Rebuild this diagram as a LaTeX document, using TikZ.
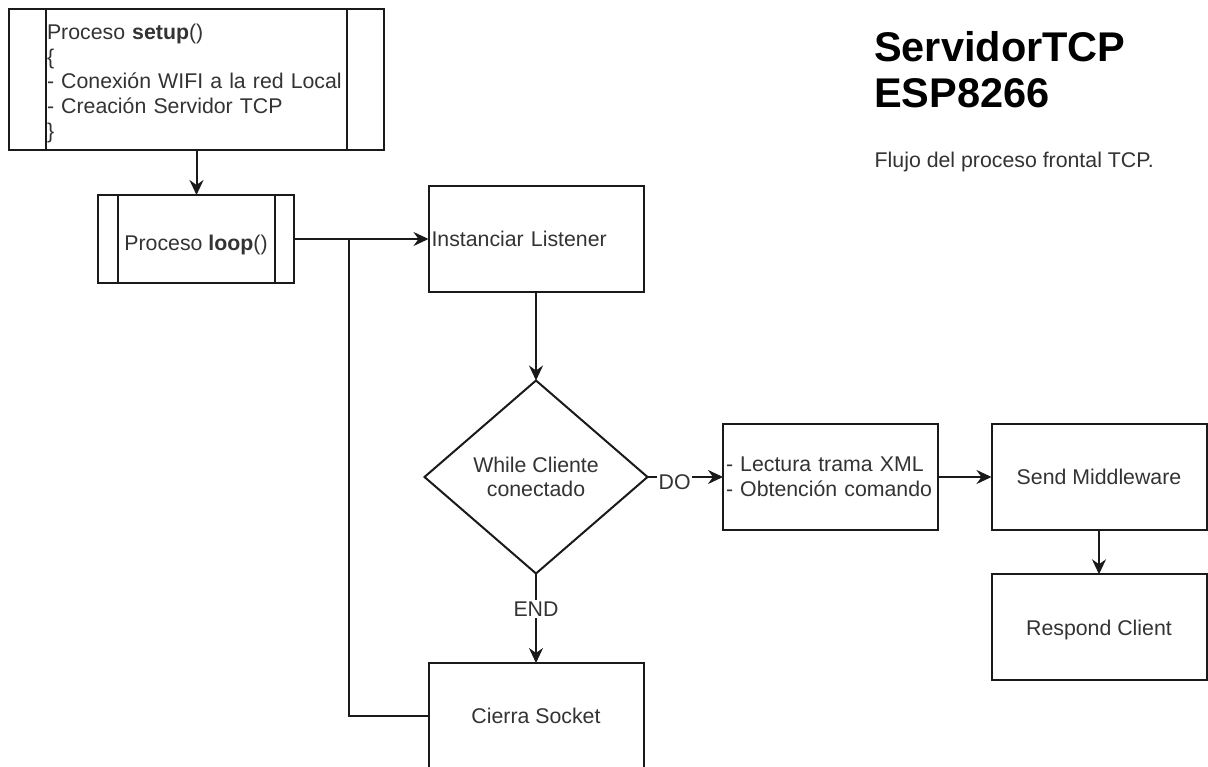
\documentclass[tikz,border=0pt]{standalone}
\usepackage{fontspec}
\setmainfont{Liberation Sans}
\usetikzlibrary{shapes.geometric,arrows.meta}
\definecolor{txtc}{HTML}{333333}
\definecolor{linec}{HTML}{1A1A1A}
\newcommand\dgfont{\fontsize{21.3}{24.6}\selectfont}
\begin{document}
\begin{tikzpicture}[x=1pt,y=-1pt,
 box/.style={draw=linec,line width=2pt,rectangle,inner sep=0pt,outer sep=0pt,font=\dgfont,text=txtc,minimum width=215pt,minimum height=106pt},
 arr/.style={draw=linec,line width=2pt,-{Stealth[length=15pt,width=14pt,inset=5pt]}},
 conn/.style={draw=linec,line width=2pt},
 lbl/.style={fill=white,inner sep=1.5pt,font=\dgfont,text=txtc}]
\useasboundingbox (0,0) rectangle (1208,767);
\clip (0,0) rectangle (1208,767);
\fill[white] (0,0) rectangle (1208,767);

\node[box,minimum width=375pt,minimum height=141pt,text width=299pt,inner xsep=38pt,align=left] (setup) at (196.5,79.5) {\rule{0pt}{23.4pt}Proceso \textbf{setup}()\\\{\\- Conexión WIFI a la red Local\\- Creación Servidor TCP\\\}};
\draw[conn] ([xshift=37pt]setup.north west) -- ([xshift=37pt]setup.south west);
\draw[conn] ([xshift=-37pt]setup.north east) -- ([xshift=-37pt]setup.south east);

\node[box,minimum width=196pt,minimum height=88pt,text height=23.4pt,text depth=0pt,xshift=-2pt] (loop) at (198,239) {Proceso \textbf{loop}()};
\draw[conn] ([xshift=20pt]loop.north west) -- ([xshift=20pt]loop.south west);
\draw[conn] ([xshift=-19pt]loop.north east) -- ([xshift=-19pt]loop.south east);

\node[box,text width=209pt,inner xsep=3pt,align=left] (inst) at (536,239) {Instanciar Listener};

\node[draw=linec,line width=2pt,diamond,inner sep=0pt,outer sep=0pt,minimum width=223pt,minimum height=193pt,font=\dgfont,text=txtc,align=center] (dia) at (536,477) {While Cliente\\conectado};

\node[box] (cierra) at (536,716) {Cierra Socket};
\node[box,text width=209pt,inner xsep=3pt,align=left] (lect) at (830.5,477) {- Lectura trama XML\\- Obtención comando};
\node[box] (send) at (1099,477) {Send Middleware};
\node[box,text depth=0pt] (resp) at (1099,627.3) {Respond Client};

\node[anchor=north west,inner sep=0pt,align=left,font=\fontsize{41.5}{45.6}\selectfont\bfseries,text=black] (title) at (874,31.4) {ServidorTCP\\ESP8266};
\node[anchor=base west,inner sep=0pt,font=\dgfont,text=txtc] (sub) at (874.5,167.3) {Flujo del proceso frontal TCP.};

\draw[arr] (setup.south) -- (setup.south |- loop.north);
\draw[arr] (loop.east) -- (inst.west);
\coordinate (br) at (348.7,239);
\draw[conn] (br) |- (cierra.west);
\draw[arr] (inst.south) -- (dia.north);
\draw[arr] (dia.east) -- node[lbl,pos=0.36,yshift=-5pt]{DO} (lect.west);
\draw[arr] (dia.south) -- node[lbl,pos=0.4]{END} (cierra.north);
\draw[arr] (lect.east) -- (send.west);
\draw[arr] (send.south) -- (resp.north);
\end{tikzpicture}
\end{document}
